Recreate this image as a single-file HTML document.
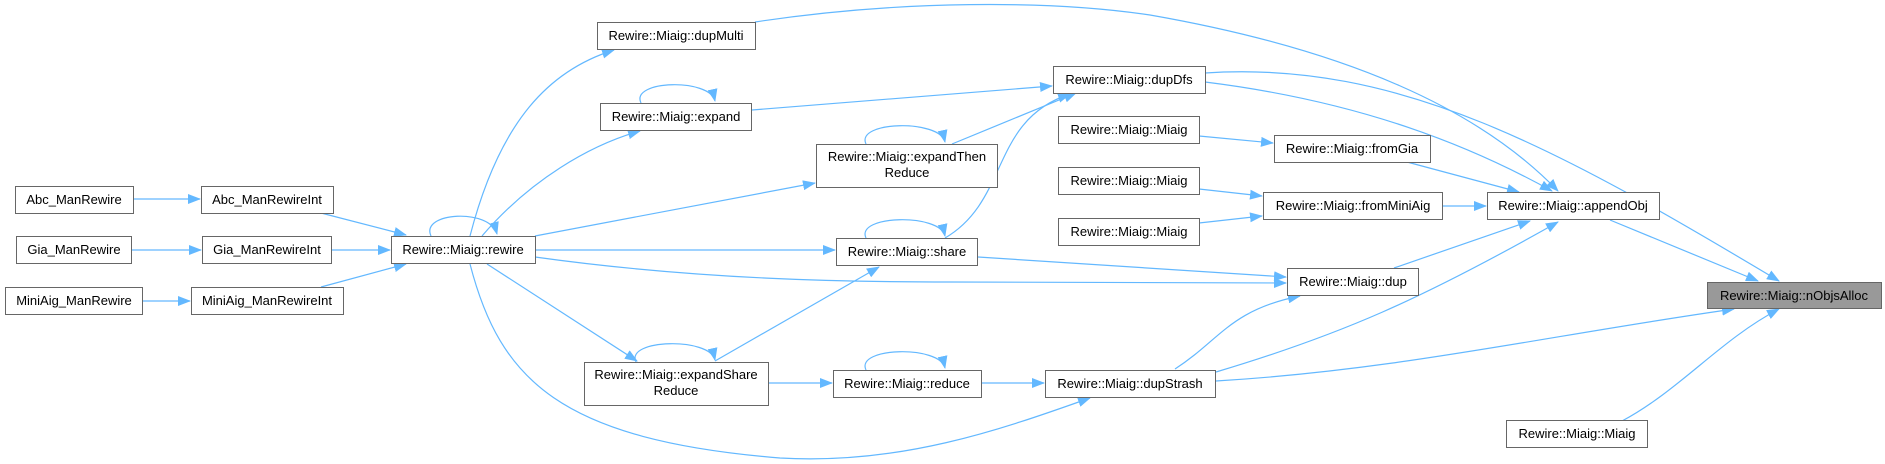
<!DOCTYPE html>
<html><head><meta charset="utf-8"><style>
html,body{margin:0;padding:0;background:#fff;}
svg{display:block;}
text{font-family:"Liberation Sans",Arial,sans-serif;font-size:13px;fill:#000;}
.n{fill:#fff;stroke:#666;stroke-width:1;}
.e{fill:none;stroke:#63b8ff;stroke-width:1.2;}
</style></head><body>
<svg width="1885" height="464" viewBox="0 0 1885 464" xmlns="http://www.w3.org/2000/svg">
<defs>
<marker id="a" markerWidth="13" markerHeight="10" refX="12" refY="5" orient="auto" markerUnits="userSpaceOnUse">
<path d="M0,0 L13,5 L0,10 z" fill="#63b8ff"/>
</marker>
</defs>
<g marker-end="url(#a)">
<path class="e" d="M133,199 L200,199"/>
<path class="e" d="M131,250 L201,250"/>
<path class="e" d="M142,301 L190,301"/>
<path class="e" d="M321,213 L406,235"/>
<path class="e" d="M331,250 L390,250"/>
<path class="e" d="M321,287 L406,264"/>
<path class="e" d="M431,236 C420,212 490,208 497,234"/>
<path class="e" d="M470,236 C500,120 550,70 614,50"/>
<path class="e" d="M482,236 C530,180 590,145 640,131"/>
<path class="e" d="M535,236 L815,183"/>
<path class="e" d="M535,250 L835,250"/>
<path class="e" d="M535,257 C700,280 850,282 950,282 L1286,283"/>
<path class="e" d="M487,264 L637,361"/>
<path class="e" d="M470,264 C500,380 560,440 780,458 C900,465 1000,430 1090,398"/>
<path class="e" d="M641,103 C630,80 710,78 715,101"/>
<path class="e" d="M752,110 L1052,86"/>
<path class="e" d="M866,144 C855,121 940,119 945,142"/>
<path class="e" d="M952,144 L1076,93"/>
<path class="e" d="M866,238 C855,215 940,213 945,236"/>
<path class="e" d="M945,238 C1010,200 990,120 1070,94"/>
<path class="e" d="M978,257 L1286,277"/>
<path class="e" d="M636,362 C625,339 710,337 715,360"/>
<path class="e" d="M715,361 L879,267"/>
<path class="e" d="M768,383 L832,383"/>
<path class="e" d="M866,370 C855,347 940,345 945,368"/>
<path class="e" d="M981,383 L1044,383"/>
<path class="e" d="M1175,369 C1220,340 1230,310 1300,296"/>
<path class="e" d="M1216,372 C1340,335 1420,300 1558,222"/>
<path class="e" d="M1216,381 C1400,370 1550,335 1734,309"/>
<path class="e" d="M1394,268 L1530,221"/>
<path class="e" d="M1199,136 L1273,143"/>
<path class="e" d="M1199,189 L1262,196"/>
<path class="e" d="M1199,223 L1262,216"/>
<path class="e" d="M1407,162 L1519,192"/>
<path class="e" d="M1442,206 L1486,206"/>
<path class="e" d="M1610,220 L1758,281"/>
<path class="e" d="M1205,82 C1350,100 1460,140 1552,191"/>
<path class="e" d="M1205,73 C1400,60 1560,150 1779,281"/>
<path class="e" d="M755,22 C900,0 1050,0 1150,15 C1350,50 1480,110 1558,191"/>
<path class="e" d="M1622,421 C1680,390 1720,340 1779,309"/>
</g>
<g>
<rect class="n" x="597.5" y="22.5" width="158" height="27"/><text x="676" y="40" text-anchor="middle">Rewire::Miaig::dupMulti</text>
<rect class="n" x="600.5" y="103.5" width="151" height="27"/><text x="676" y="121" text-anchor="middle">Rewire::Miaig::expand</text>
<rect class="n" x="1053.5" y="66.5" width="152" height="27"/><text x="1129" y="84" text-anchor="middle">Rewire::Miaig::dupDfs</text>
<rect class="n" x="816.5" y="144.5" width="181" height="43"/><text x="907" y="161" text-anchor="middle">Rewire::Miaig::expandThen</text><text x="907" y="177" text-anchor="middle">Reduce</text>
<rect class="n" x="1058.5" y="116.5" width="141" height="27"/><text x="1129" y="134" text-anchor="middle">Rewire::Miaig::Miaig</text>
<rect class="n" x="1274.5" y="135.5" width="156" height="27"/><text x="1352" y="153" text-anchor="middle">Rewire::Miaig::fromGia</text>
<rect class="n" x="1058.5" y="167.5" width="141" height="27"/><text x="1129" y="185" text-anchor="middle">Rewire::Miaig::Miaig</text>
<rect class="n" x="1263.5" y="192.5" width="179" height="27"/><text x="1353" y="210" text-anchor="middle">Rewire::Miaig::fromMiniAig</text>
<rect class="n" x="1487.5" y="192.5" width="172" height="27"/><text x="1573" y="210" text-anchor="middle">Rewire::Miaig::appendObj</text>
<rect class="n" x="1058.5" y="218.5" width="141" height="27"/><text x="1129" y="236" text-anchor="middle">Rewire::Miaig::Miaig</text>
<rect class="n" x="15.5" y="186.5" width="118" height="27"/><text x="74" y="204" text-anchor="middle">Abc_ManRewire</text>
<rect class="n" x="201.5" y="186.5" width="132" height="27"/><text x="267" y="204" text-anchor="middle">Abc_ManRewireInt</text>
<rect class="n" x="16.5" y="236.5" width="115" height="27"/><text x="74" y="254" text-anchor="middle">Gia_ManRewire</text>
<rect class="n" x="202.5" y="236.5" width="129" height="27"/><text x="267" y="254" text-anchor="middle">Gia_ManRewireInt</text>
<rect class="n" x="391.5" y="236.5" width="144" height="27"/><text x="463" y="254" text-anchor="middle">Rewire::Miaig::rewire</text>
<rect class="n" x="836.5" y="238.5" width="141" height="27"/><text x="907" y="256" text-anchor="middle">Rewire::Miaig::share</text>
<rect class="n" x="5.5" y="287.5" width="137" height="27"/><text x="74" y="305" text-anchor="middle">MiniAig_ManRewire</text>
<rect class="n" x="191.5" y="287.5" width="152" height="27"/><text x="267" y="305" text-anchor="middle">MiniAig_ManRewireInt</text>
<rect class="n" x="1287.5" y="268.5" width="131" height="27"/><text x="1353" y="286" text-anchor="middle">Rewire::Miaig::dup</text>
<rect x="1707.5" y="282.5" width="174" height="26" fill="#999" stroke="#666"/><text x="1794" y="300" text-anchor="middle">Rewire::Miaig::nObjsAlloc</text>
<rect class="n" x="584.5" y="362.5" width="184" height="43"/><text x="676" y="379" text-anchor="middle">Rewire::Miaig::expandShare</text><text x="676" y="395" text-anchor="middle">Reduce</text>
<rect class="n" x="833.5" y="370.5" width="148" height="27"/><text x="907" y="388" text-anchor="middle">Rewire::Miaig::reduce</text>
<rect class="n" x="1045.5" y="370.5" width="170" height="27"/><text x="1130" y="388" text-anchor="middle">Rewire::Miaig::dupStrash</text>
<rect class="n" x="1506.5" y="420.5" width="141" height="27"/><text x="1577" y="438" text-anchor="middle">Rewire::Miaig::Miaig</text>
</g>
</svg>
</body></html>
